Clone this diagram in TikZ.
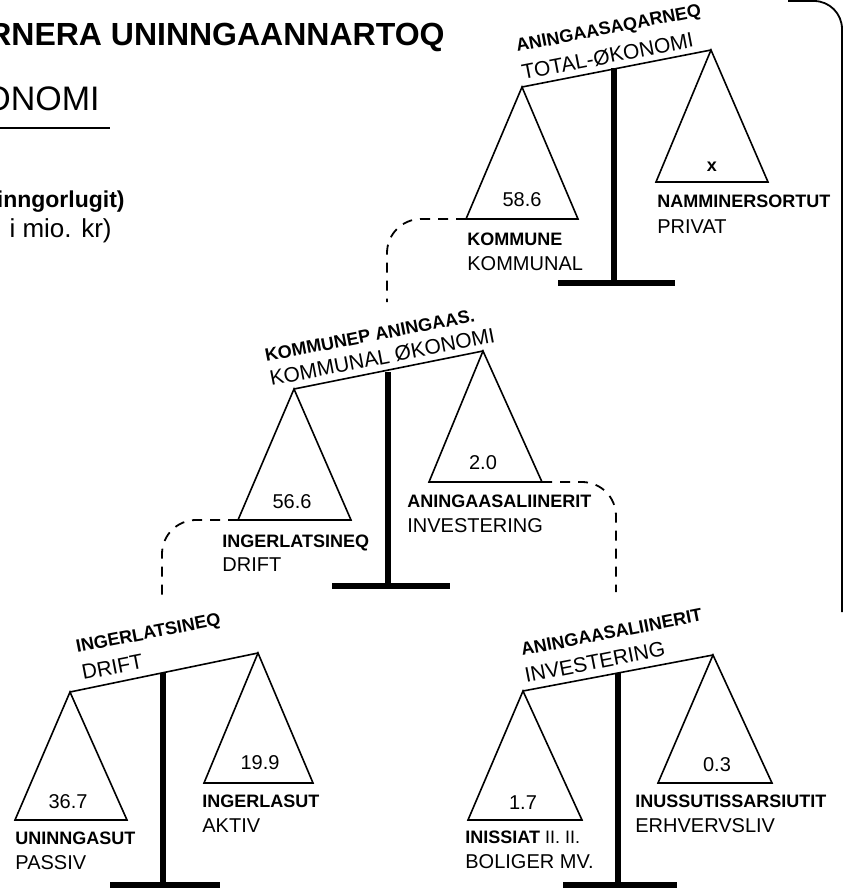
\documentclass[tikz,border=0pt]{standalone}
\usepackage{fontspec}
\setmainfont{Liberation Sans}
\begin{document}
\begin{tikzpicture}[x=0.5pt, y=-0.5pt,
  beam/.style={line width=0.8pt},
  pan/.style={line width=0.8pt, line join=miter},
  post/.style={line width=2.6pt},
  link/.style={line width=0.9pt, dash pattern=on 5pt off 4pt, rounded corners=17pt},
  head/.style={font=\bfseries\fontsize{9}{10}\selectfont, rotate=11, anchor=base west, inner sep=0pt},
  sub/.style={font=\fontsize{10.5}{12}\selectfont, rotate=11, anchor=base west, inner sep=0pt},
  bold/.style={font=\bfseries\fontsize{9}{10}\selectfont, anchor=base west, inner sep=0pt},
  plain/.style={font=\fontsize{10}{12}\selectfont, anchor=base west, inner sep=0pt},
  num/.style={font=\fontsize{10}{12}\selectfont, inner sep=0pt}]

  \useasboundingbox (0,0) rectangle (844,890);
  \clip (0,0) rectangle (844,890);

  % Title, cut at the left edge
  \node (title) at (445,45) [anchor=base east, inner sep=0pt, font=\bfseries\fontsize{16}{18}\selectfont] {RNERA UNINNGAANNARTOQ};
  \node (subtitle) at (100,110) [anchor=base east, inner sep=0pt, font=\fontsize{17}{19}\selectfont] {ONOMI};
  \draw[line width=0.9pt] (0,128) -- (110,128);
  \node (note1) at (125,207) [anchor=base east, inner sep=0pt, font=\bfseries\fontsize{11.5}{13}\selectfont] {inngorlugit)};
  \node (note2) at (112,237) [anchor=base east, inner sep=0pt, font=\fontsize{13}{15}\selectfont] {i mio. kr)};

  % Frame at the right edge
  \draw[line width=0.9pt, rounded corners=14pt] (788,1) -- (842,1) -- (842,612);

  % Scale 1: total economy
  \coordinate (t1l) at (522,87);
  \coordinate (t1r) at (711,50);
  \draw[beam] (t1l) -- (t1r);
  \draw[post] (614,68) -- (614,283);
  \draw[post] (558,283) -- (675,283);
  \draw[pan] (t1l) -- (466,219) coordinate (k1) -- (578,219) -- cycle;
  \draw[pan] (t1r) -- (656,182) -- (768,182) -- cycle;
  \node (h1) at (517,52) [head] {ANINGAASAQARNEQ};
  \node (s1) at (523,80) [sub] {TOTAL-ØKONOMI};
  \node (v1) at (522,200) [num] {58.6};
  \node (v2) at (712,167) [num, font=\bfseries\fontsize{9}{10}\selectfont] {x};
  \node (b1) at (467,245) [bold] {KOMMUNE};
  \node (p1) at (467,270) [plain] {KOMMUNAL};
  \node (b2) at (657,207) [bold] {NAMMINERSORTUT};
  \node (p2) at (657,233) [plain] {PRIVAT};

  % Scale 2: municipal economy
  \coordinate (t2l) at (294,389);
  \coordinate (t2r) at (483,351);
  \coordinate (e2) at (387,302);
  \draw[beam] (t2l) -- (t2r);
  \draw[post] (388,372) -- (388,586);
  \draw[post] (332,586) -- (450,586);
  \draw[pan] (t2l) -- (238,520) coordinate (k2) -- (351,520) -- cycle;
  \draw[pan] (t2r) -- (429,482) -- (542,482) coordinate (k3) -- cycle;
  \node (h2) at (266,362) [head] {KOMMUNEP ANINGAAS.};
  \node (s2) at (271,386) [sub] {KOMMUNAL ØKONOMI};
  \node (v3) at (292,502) [num] {56.6};
  \node (v4) at (483,463) [num] {2.0};
  \node (b3) at (222,547) [bold] {INGERLATSINEQ};
  \node (p3) at (222,571) [plain] {DRIFT};
  \node (b4) at (407,507) [bold] {ANINGAASALIINERIT};
  \node (p4) at (407,532) [plain] {INVESTERING};

  % Scale 3: running costs
  \coordinate (t3l) at (70,692);
  \coordinate (t3r) at (258,653);
  \coordinate (e3) at (162,602);
  \draw[beam] (t3l) -- (t3r);
  \draw[post] (163,673) -- (163,885);
  \draw[post] (110,885) -- (220,885);
  \draw[pan] (t3l) -- (15,820) -- (127,820) -- cycle;
  \draw[pan] (t3r) -- (204,783) -- (313,783) -- cycle;
  \node (h3) at (77,653) [head] {INGERLATSINEQ};
  \node (s3) at (83,680) [sub] {DRIFT};
  \node (v5) at (68,802) [num] {36.7};
  \node (v6) at (260,763) [num] {19.9};
  \node (b5) at (15,844) [bold] {UNINNGASUT};
  \node (p5) at (15,869) [plain] {PASSIV};
  \node (b6) at (202,807) [bold] {INGERLASUT};
  \node (p6) at (202,832) [plain] {AKTIV};

  % Scale 4: investments
  \coordinate (t4l) at (523,691);
  \coordinate (t4r) at (713,655);
  \coordinate (e4) at (616,592);
  \draw[beam] (t4l) -- (t4r);
  \draw[post] (618,673) -- (618,885);
  \draw[post] (563,885) -- (677,885);
  \draw[pan] (t4l) -- (468,820) -- (582,820) -- cycle;
  \draw[pan] (t4r) -- (658,783) -- (772,783) -- cycle;
  \node (h4) at (522,656) [head] {ANINGAASALIINERIT};
  \node (s4) at (526,683) [sub] {INVESTERING};
  \node (v7) at (523,803) [num] {1.7};
  \node (v8) at (717,765) [num] {0.3};
  \node (b7) at (465,843) [bold] {INISSIAT \mdseries II. II.};
  \node (p7) at (465,868) [plain] {BOLIGER MV.};
  \node (b8) at (635,807) [bold] {INUSSUTISSARSIUTIT};
  \node (p8) at (635,832) [plain] {ERHVERVSLIV};

  % Dashed links from a pan down to the next scale
  \draw[link] (k1) -| (e2);
  \draw[link] (k2) -| (e3);
  \draw[link] (k3) -| (e4);

\end{tikzpicture}
\end{document}
